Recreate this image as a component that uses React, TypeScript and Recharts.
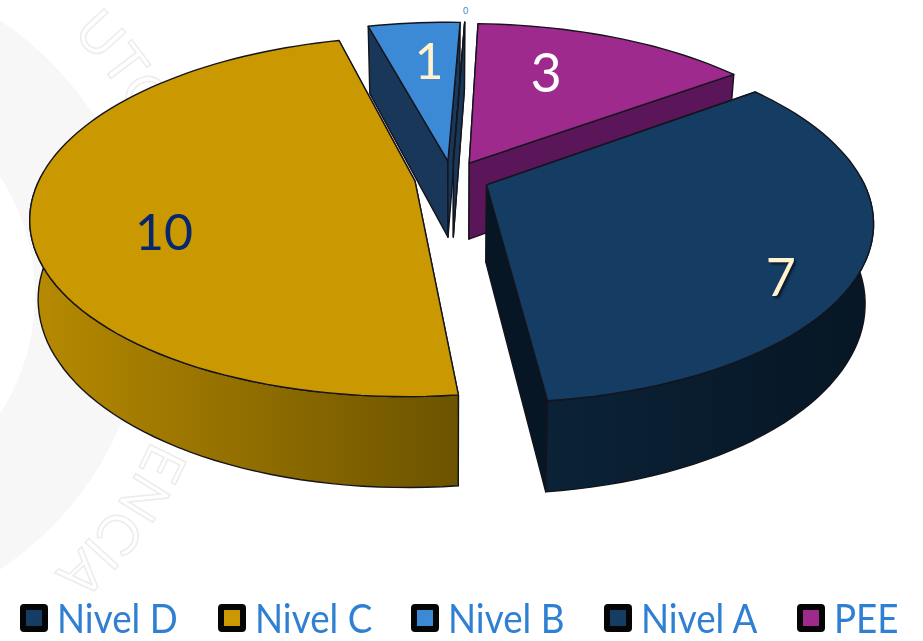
import { PieChart, Pie, Cell, Legend } from "recharts";

const CATEGORIES = ["Nivel D", "Nivel C", "Nivel B", "Nivel A", "PEE"];
const VALUES = [7, 10, 1, 0, 3];

const TOP_COLORS: Record<string, string> = {
  "Nivel D": "#153c63",
  "Nivel C": "#ca9800",
  "Nivel B": "#3c8ad6",
  "Nivel A": "#153c63",
  PEE: "#9e2a8e",
};
const WALL_LIGHT: Record<string, string> = {
  "Nivel D": "#0b2237",
  "Nivel C": "#b78a00",
  "Nivel B": "#193859",
  "Nivel A": "#193859",
  PEE: "#5a1658",
};
const WALL_DARK: Record<string, string> = {
  "Nivel D": "#061624",
  "Nivel C": "#6c5300",
  "Nivel B": "#193859",
  "Nivel A": "#193859",
  PEE: "#5a1658",
};
const LABEL_STYLES: Record<string, { color: string; size: number; radius: number; dx: number; dy: number }> = {
  "Nivel D": { color: "#fff2cc", size: 52, radius: 0.79, dx: 0, dy: 32 },
  "Nivel C": { color: "#06276b", size: 50, radius: 0.66, dx: 0, dy: 28 },
  "Nivel B": { color: "#fff2cc", size: 50, radius: 0.7, dx: 6, dy: 0 },
  "Nivel A": { color: "#3c8ad6", size: 9, radius: 1.1, dx: 0, dy: 0 },
  PEE: { color: "#ffffff", size: 54, radius: 0.7, dx: -29, dy: 0 },
};

// slices are painted back to front, the ring order stays the same
const chartData = [2, 3, 4, 0, 1].map((i) => ({
  name: CATEGORIES[i],
  value: VALUES[i],
}));

const EXPLODE = 0.1;
const PERSPECTIVE = 0.195;
const SQUASH = 172 / 375;

const toRad = (deg: number) => (deg * Math.PI) / 180;

function project(cx: number, cy: number, r: number, angle: number, radius: number, mid: number) {
  const u = radius * Math.cos(toRad(angle)) + EXPLODE * Math.cos(toRad(mid));
  const v = -radius * Math.sin(toRad(angle)) - EXPLODE * Math.sin(toRad(mid));
  const w = 1 / (1 - PERSPECTIVE * v);
  return { x: cx + r * u * w, y: cy + r * SQUASH * v * w };
}

function drop(cx: number, cy: number, p: { x: number; y: number }) {
  return { x: cx + (p.x - cx) * 0.98, y: cy + (p.y - cy) * 1.0635 + 77 };
}

const toPath = (pts: { x: number; y: number }[]) =>
  pts.map((p, i) => `${i ? "L" : "M"}${p.x.toFixed(1)},${p.y.toFixed(1)}`).join("") + "Z";

function Slice3D(props: any) {
  const { cx, cy, outerRadius, startAngle, endAngle, midAngle, name, index } = props;
  const sliceName = name ?? props.payload?.name;
  const mid = midAngle ?? (startAngle + endAngle) / 2;
  const steps = Math.max(2, Math.ceil(Math.abs(endAngle - startAngle) / 2));
  const angles = Array.from({ length: steps + 1 }, (_, i) => startAngle + ((endAngle - startAngle) * i) / steps);
  const arc = angles.map((a) => project(cx, cy, outerRadius, a, 1, mid));
  // only the part of the rim that faces the viewer gets a wall
  const front = angles
    .filter((a) => Math.sin(toRad(a)) < 0.06)
    .map((a) => project(cx, cy, outerRadius, a, 1, mid));
  const apex = project(cx, cy, outerRadius, mid, 0, mid);
  const low = (p: { x: number; y: number }) => drop(cx, cy, p);
  const gradId = `wall-${index}`;
  const edge = { stroke: "#14141c", strokeWidth: 1.4, strokeLinejoin: "round" as const };
  return (
    <g>
      <defs>
        <linearGradient id={gradId} x1="0" y1="0" x2="1" y2="0">
          <stop offset="0%" stopColor={WALL_LIGHT[sliceName]} />
          <stop offset="100%" stopColor={WALL_DARK[sliceName]} />
        </linearGradient>
      </defs>
      <path d={toPath([apex, arc[0], low(arc[0]), low(apex)])} fill={WALL_DARK[sliceName]} {...edge} />
      <path
        d={toPath([apex, arc[steps], low(arc[steps]), low(apex)])}
        fill={WALL_DARK[sliceName]}
        {...edge}
      />
      {front.length > 1 && (
        <path d={toPath([...front, ...front.map(low).reverse()])} fill={`url(#${gradId})`} {...edge} />
      )}
      <path d={toPath([apex, ...arc])} fill={TOP_COLORS[sliceName]} {...edge} />
    </g>
  );
}

function renderLabel(props: any) {
  const { cx, cy, outerRadius, midAngle, name, value } = props;
  const s = LABEL_STYLES[name];
  const p = project(cx, cy, outerRadius, midAngle, s.radius, midAngle);
  return (
    <text
      x={p.x + s.dx}
      y={p.y + s.dy}
      textAnchor="middle"
      dominantBaseline="central"
      fontFamily="Lato, sans-serif"
      fontSize={s.size}
      fill={s.color}
      style={name === "Nivel D" ? { filter: "drop-shadow(2px 2px 1px rgba(0,0,0,0.6))" } : undefined}
    >
      {value}
    </text>
  );
}

function renderLegend() {
  return (
    <div style={{ display: "flex", width: 900, fontFamily: "Lato, sans-serif", fontSize: 40, color: "#2f80d2", lineHeight: "44px" }}>
      {CATEGORIES.map((name, i) => (
        <div
          key={name}
          style={{
            display: "flex",
            flex: "none",
            alignItems: "center",
            width: i === 0 ? 198 : 193,
            whiteSpace: "nowrap",
          }}
        >
          <span
            style={{
              display: "inline-block",
              boxSizing: "border-box",
              width: 28,
              height: 28,
              marginRight: 9,
              border: "6px solid #050505",
              borderRadius: 4,
              background: TOP_COLORS[name],
              flex: "none",
            }}
          />
          <span style={{ display: "inline-block", transform: "scaleX(0.92)", transformOrigin: "left center" }}>{name}</span>
        </div>
      ))}
    </div>
  );
}

function Watermark() {
  return (
    <svg width={923} height={641} style={{ position: "absolute", left: 0, top: 0 }}>
      <defs>
        <path id="seal" d="M -183 -70 A 365 365 0 1 1 -183 660" />
      </defs>
      <circle cx={-183} cy={295} r={274} fill="none" stroke="#f7f7f7" strokeWidth={112} />
      <text fontFamily="Lato, sans-serif" fontSize={56} fill="none" stroke="#ececec" strokeWidth={1.5}>
        <textPath href="#seal" startOffset="24.5%">UTO</textPath>
      </text>
      <text fontFamily="Lato, sans-serif" fontSize={56} fill="none" stroke="#ececec" strokeWidth={1.5}>
        <textPath href="#seal" startOffset="63%">ENCIA</textPath>
      </text>
    </svg>
  );
}

export default function App() {
  return (
    <div style={{ position: "absolute", left: 0, top: 0, width: 923, height: 641, background: "#fff", overflow: "hidden" }}>
      <Watermark />
      <div style={{ position: "absolute", left: 0, top: 0 }}>
        <PieChart width={923} height={641} margin={{ top: 0, right: 0, bottom: 0, left: 0 }}>
          <Pie
            data={chartData}
            dataKey="value"
            nameKey="name"
            cx={452}
            cy={178}
            innerRadius={0}
            outerRadius={375}
            startAngle={105}
            endAngle={-255}
            minAngle={1}
            stroke="none"
            shape={Slice3D}
            label={renderLabel}
            labelLine={false}
            isAnimationActive={false}
          >
            {chartData.map((entry) => (
              <Cell key={entry.name} fill={TOP_COLORS[entry.name]} />
            ))}
          </Pie>
          <Legend
            content={renderLegend}
            wrapperStyle={{ position: "absolute", left: 20, top: 596, width: 900, height: 44 }}
          />
        </PieChart>
      </div>
    </div>
  );
}
